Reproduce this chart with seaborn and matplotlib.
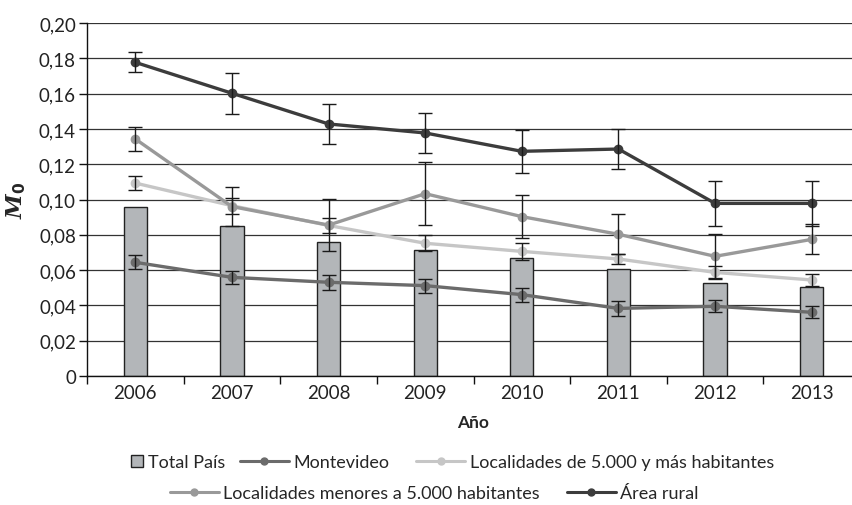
import numpy as np
import pandas as pd
import matplotlib
matplotlib.use("Agg")
import matplotlib.pyplot as plt
import seaborn as sns
from matplotlib.lines import Line2D

years = ["2006", "2007", "2008", "2009", "2010", "2011", "2012", "2013"]
total_pais = [0.0955, 0.0848, 0.0757, 0.0714, 0.0667, 0.0606, 0.0527, 0.0506]
montevideo = [0.0644, 0.0559, 0.0531, 0.0512, 0.0461, 0.0383, 0.0395, 0.0361]
montevideo_err = [0.0039, 0.0035, 0.0043, 0.0040, 0.0040, 0.0043, 0.0034, 0.0033]
loc_mayores = [0.1093, 0.0965, 0.0853, 0.0752, 0.0706, 0.0663, 0.0587, 0.0544]
loc_mayores_err = [0.0038, 0.0045, 0.0042, 0.0045, 0.0050, 0.0030, 0.0038, 0.0036]
loc_menores = [0.1343, 0.0960, 0.0855, 0.1033, 0.0903, 0.0803, 0.0678, 0.0774]
loc_menores_err = [0.0066, 0.0112, 0.0148, 0.0180, 0.0123, 0.0113, 0.0125, 0.0085]
rural = [0.1777, 0.1602, 0.1428, 0.1377, 0.1273, 0.1286, 0.0978, 0.0978]
rural_err = [0.0056, 0.0115, 0.0115, 0.0113, 0.0122, 0.0113, 0.0126, 0.0127]

series_names = ["Montevideo", "Localidades de 5.000 y más habitantes",
                "Localidades menores a 5.000 habitantes", "Área rural"]
series_vals = [montevideo, loc_mayores, loc_menores, rural]
series_errs = [montevideo_err, loc_mayores_err, loc_menores_err, rural_err]
series_colors = ["#6b6b6b", "#c6c6c6", "#999999", "#3c3c3c"]
bar_color = "#b3b6b9"

sns.set_theme(style="white")
plt.rcParams["font.family"] = ["Lato", "DejaVu Sans"]
plt.rcParams["mathtext.fontset"] = "custom"
plt.rcParams["mathtext.it"] = "DejaVu Serif:italic:bold"
plt.rcParams["mathtext.rm"] = "DejaVu Sans:bold"
plt.rcParams["mathtext.bf"] = "DejaVu Sans:bold"

fig = plt.figure(figsize=(8.52, 5.06), dpi=100)
ax = fig.add_axes([87 / 852, 1 - 377 / 506, (860 - 87) / 852, (377 - 24) / 506])

df = pd.DataFrame({"Año": years, "Total País": total_pais})
sns.barplot(data=df, x="Año", y="Total País", color=bar_color, width=0.24,
            edgecolor="#222222", linewidth=1.0, saturation=1, ax=ax, zorder=2)

x = np.arange(len(years))
for name, vals, errs, col in zip(series_names, series_vals, series_errs, series_colors):
    ax.plot(x, vals, color=col, lw=2.4, marker="o", ms=6, zorder=3)
    ax.errorbar(x, vals, yerr=errs, fmt="none", ecolor="#1a1a1a", elinewidth=1,
                capsize=5, capthick=1, zorder=4)

ax.set_ylim(0, 0.20)
ax.set_xlim(-0.5, len(years) - 0.5)
yt = np.arange(0, 0.201, 0.02)
ax.set_yticks(yt)
ax.set_yticklabels(["0"] + [f"{v:.2f}".replace(".", ",") for v in yt[1:]])
ax.yaxis.grid(True, color="#333333", lw=0.9)
ax.set_axisbelow(True)
for s in ["top", "right"]:
    ax.spines[s].set_visible(False)
for s in ["left", "bottom"]:
    ax.spines[s].set_color("#111111")
    ax.spines[s].set_linewidth(1.0)

ax.tick_params(axis="y", which="major", length=6, width=1, color="#111111",
               direction="out", left=True, labelsize=13.5, pad=2)
ax.tick_params(axis="x", which="major", length=0, labelsize=13.5, pad=6)
ax.set_xticks(np.arange(-0.5, len(years) - 0.49, 1), minor=True)
ax.tick_params(axis="x", which="minor", length=6, width=1, color="#111111",
               direction="out", bottom=True)
for lab in ax.get_xticklabels() + ax.get_yticklabels():
    lab.set_color("#222222")

ax.set_xlabel("Año", fontsize=12.5, fontweight="bold", labelpad=9)
ax.set_ylabel(r"$M_\mathbf{0}$", fontsize=16, labelpad=8)

line_handles = [Line2D([0], [0], color=c, lw=2.2, marker="o", ms=5) for c in series_colors]
sq = Line2D([0], [0], ls="none", marker="s", ms=8, markerfacecolor=bar_color,
            markeredgecolor="#222222", markeredgewidth=1.0)

common = dict(frameon=False, fontsize=13, handletextpad=0.25, columnspacing=1.5,
              borderaxespad=0, borderpad=0)
fig.legend([sq], ["Total País"], loc="center left",
           bbox_to_anchor=(131 / 852, 1 - 463 / 506), handlelength=0.7, **common)
fig.legend(line_handles[:2], series_names[:2], loc="center left",
           bbox_to_anchor=(240 / 852, 1 - 463 / 506), ncol=2, handlelength=2.7, **common)
fig.legend(line_handles[2:], series_names[2:], loc="center left",
           bbox_to_anchor=(170 / 852, 1 - 494 / 506), ncol=2, handlelength=2.7, **common)

fig.savefig("out.png", dpi=100)
